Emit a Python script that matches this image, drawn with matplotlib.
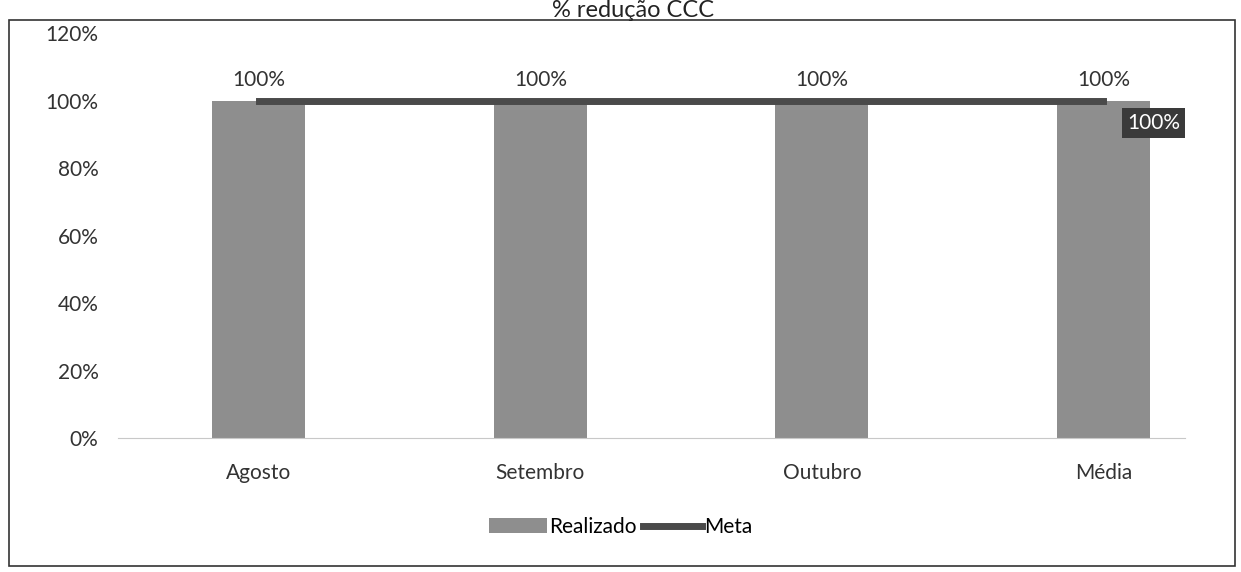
import matplotlib
matplotlib.use('Agg')
import matplotlib.pyplot as plt
import matplotlib.ticker as mticker
from matplotlib.patches import Rectangle
import numpy as np

BAR_GREY = "#8e8e8e"
LINE_GREY = "#4a4a4a"
TEXT = "#333333"

plt.rcParams.update({'font.family': ['Lato', 'DejaVu Sans'], 'font.size': 15})

categories = ['Agosto', 'Setembro', 'Outubro', 'Média']
realizado = [1.0, 1.0, 1.0, 1.0]
meta = [1.0, 1.0, 1.0, 1.0]
title = '% redução CCC'

fig = plt.figure(figsize=(12.41, 5.72), dpi=100)
ax = fig.add_axes([0.095, 0.234, 0.86, 0.708])

x = np.arange(len(categories))
bars = ax.bar(x, realizado, width=0.33, color=BAR_GREY, label='Realizado', zorder=2)
line, = ax.plot(x, meta, color=LINE_GREY, lw=5, label='Meta', zorder=3)

for xi, v in zip(x, realizado):
    ax.annotate(f'{v:.0%}', (xi, v), xytext=(0, 8), textcoords='offset points',
                ha='center', va='bottom', fontsize=15, color=TEXT)

# label of the last Meta point, dark box
ax.annotate(f'{meta[-1]:.0%}', (x[-1], meta[-1]), xytext=(36, -16),
            textcoords='offset points', ha='center', va='center',
            fontsize=15, color='white',
            bbox=dict(boxstyle='square,pad=0.25', facecolor='#3a3a3a', edgecolor='none'))

ax.set_xlim(-0.5, 3.29)
ax.set_ylim(0, 1.2)
ax.yaxis.set_major_locator(mticker.MultipleLocator(0.2))
ax.yaxis.set_major_formatter(mticker.PercentFormatter(1.0, decimals=0))
ax.set_xticks(x)
ax.set_xticklabels(categories)
ax.tick_params(axis='x', length=0, pad=18, colors=TEXT)
ax.tick_params(axis='y', length=0, pad=14, colors=TEXT)
for s in ['top', 'right', 'left']:
    ax.spines[s].set_visible(False)
ax.spines['bottom'].set_color('#c8c8c8')
ax.spines['bottom'].set_linestyle((0, (2, 1)))

fig.text(0.51, 1.0, title, ha='center', va='top', fontsize=17, color='#222222')

ax.legend([bars, line], ['Realizado', 'Meta'], loc='center',
          bbox_to_anchor=(0.5, 0.079), bbox_transform=fig.transFigure,
          ncol=2, frameon=False, fontsize=15, handlelength=2.8, columnspacing=0.3,
          handletextpad=0.1)

fig.patches.append(Rectangle((0.007, 0.01), 0.988, 0.955, transform=fig.transFigure,
                             fill=False, edgecolor='#333333', lw=1.2))

fig.savefig('out.png', dpi=100)
